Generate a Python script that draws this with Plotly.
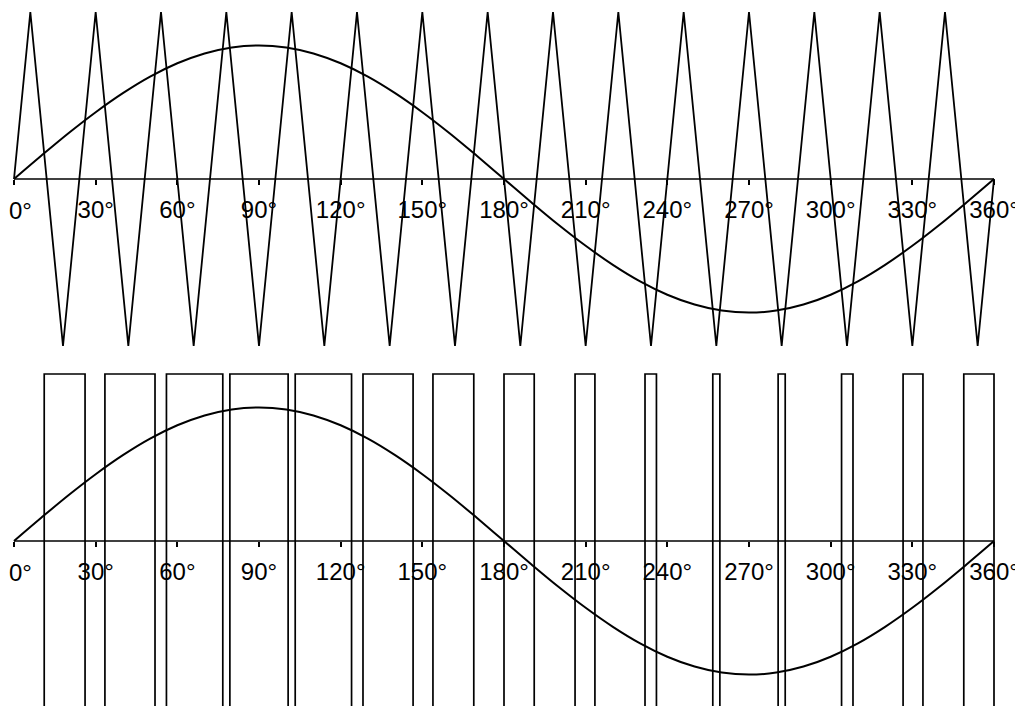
import plotly.graph_objects as go

# ---- data ----
angle_ticks = [0, 30, 60, 90, 120, 150, 180, 210, 240, 270, 300, 330, 360]
tick_labels = ["0°", "30°", "60°", "90°", "120°", "150°", "180°",
               "210°", "240°", "270°", "300°", "330°", "360°"]

# triangular carrier vertices (15 periods over 360°)
carrier_angles = [0, 6, 18, 30, 42, 54, 66, 78, 90, 102, 114, 126, 138, 150, 162,
                  174, 186, 198, 210, 222, 234, 246, 258, 270, 282, 294, 306, 318,
                  330, 342, 354, 360]
carrier_values = [0, 1, -1, 1, -1, 1, -1, 1, -1, 1, -1, 1, -1, 1, -1,
                  1, -1, 1, -1, 1, -1, 1, -1, 1, -1, 1, -1, 1,
                  -1, 1, -1, 0]

# modulating (reference) sine wave, read every 10°
sine_angles = [0, 10, 20, 30, 40, 50, 60, 70, 80, 90, 100, 110, 120, 130, 140, 150,
               160, 170, 180, 190, 200, 210, 220, 230, 240, 250, 260, 270, 280, 290,
               300, 310, 320, 330, 340, 350, 360]
sine_values = [0.0, 0.139, 0.274, 0.400, 0.514, 0.613, 0.693, 0.752, 0.788, 0.800,
               0.788, 0.752, 0.693, 0.613, 0.514, 0.400, 0.274, 0.139, 0.0,
               -0.139, -0.274, -0.400, -0.514, -0.613, -0.693, -0.752, -0.788, -0.800,
               -0.788, -0.752, -0.693, -0.613, -0.514, -0.400, -0.274, -0.139, 0.0]

# PWM switching angles and levels
pwm_edges = [0, 11.1, 26.1, 33.4, 51.8, 56.0, 76.7, 79.3, 100.7, 103.3, 124.0, 128.2,
             146.6, 153.9, 168.9, 180.0, 191.1, 206.1, 213.4, 231.8, 236.0, 256.7,
             259.3, 280.7, 283.3, 304.0, 308.2, 326.6, 333.9, 348.9, 360]
pwm_levels = [-1, 1, -1, 1, -1, 1, -1, 1, -1, 1, -1, 1,
              -1, 1, -1, 1, -1, 1, -1, 1, -1, 1,
              -1, 1, -1, 1, -1, 1, -1, 1, -1]

baseline_x = [angle_ticks[0], angle_ticks[-1]]
baseline_y = [0, 0]

# ---- figure ----
fig = go.Figure()
black = "black"

# top panel
fig.add_trace(go.Scatter(x=baseline_x, y=baseline_y, mode="lines", xaxis="x", yaxis="y",
                         line=dict(color=black, width=1.7), hoverinfo="skip"))
fig.add_trace(go.Scatter(x=carrier_angles, y=carrier_values, mode="lines", xaxis="x", yaxis="y",
                         line=dict(color=black, width=1.8)))
fig.add_trace(go.Scatter(x=sine_angles, y=sine_values, mode="lines", xaxis="x", yaxis="y",
                         line=dict(color=black, width=2.0, shape="spline")))

# bottom panel
fig.add_trace(go.Scatter(x=baseline_x, y=baseline_y, mode="lines", xaxis="x2", yaxis="y2",
                         line=dict(color=black, width=1.7), hoverinfo="skip"))
fig.add_trace(go.Scatter(x=pwm_edges, y=pwm_levels, mode="lines", xaxis="x2", yaxis="y2",
                         line=dict(color=black, width=1.7, shape="hv")))
fig.add_trace(go.Scatter(x=sine_angles, y=sine_values, mode="lines", xaxis="x2", yaxis="y2",
                         line=dict(color=black, width=2.0, shape="spline")))

# the page's default 8px body margin offsets the figure; compensate
OFF = 8
W, H = 1023 - OFF, 706 - OFF
x_left_px, x_right_px = 14 - OFF, 994 - OFF
deg_px = (x_right_px - x_left_px) / 360.0
x_range = [-x_left_px / deg_px, 360 + (W - x_right_px) / deg_px]

unit_px = 167.0
top_axis_px, bot_axis_px = 179.0 - OFF, 541.0 - OFF
split_px = 360.0 - OFF

top_range = [(top_axis_px - split_px) / unit_px, top_axis_px / unit_px]
bot_range = [(bot_axis_px - H) / unit_px, (bot_axis_px - split_px) / unit_px]
split_paper = 1 - split_px / H

font_family = "Liberation Sans, Arial, sans-serif"
tick_font = dict(family=font_family, size=24, color="black")
# first label is placed as an annotation (it would overflow the left edge as a tick label)
axis_ticktext = [""] + tick_labels[1:]
xcommon = dict(domain=[0, 1], range=x_range, anchor="free", showline=False, showgrid=False,
               zeroline=False, ticks="outside", ticklen=5, tickwidth=1.5, tickcolor="black",
               tickmode="array", tickvals=angle_ticks, ticktext=axis_ticktext,
               tickfont=tick_font, ticklabelstandoff=4, fixedrange=True)

annotations = []
for xr, yr in (("x", "y"), ("x2", "y2")):
    annotations.append(dict(text=tick_labels[0], x=angle_ticks[0], y=0, xref=xr, yref=yr,
                            xanchor="left", yanchor="middle", xshift=-7, yshift=-31,
                            showarrow=False, font=tick_font))

fig.update_layout(
    width=W, height=H,
    margin=dict(l=0, r=0, t=0, b=0),
    paper_bgcolor="white", plot_bgcolor="white",
    showlegend=False,
    xaxis=dict(xcommon, position=1 - top_axis_px / H),
    xaxis2=dict(xcommon, position=1 - bot_axis_px / H),
    yaxis=dict(domain=[split_paper, 1], range=top_range, visible=False, fixedrange=True),
    yaxis2=dict(domain=[0, split_paper], range=bot_range, visible=False, fixedrange=True),
    annotations=annotations,
)

fig.write_html("out.html")
